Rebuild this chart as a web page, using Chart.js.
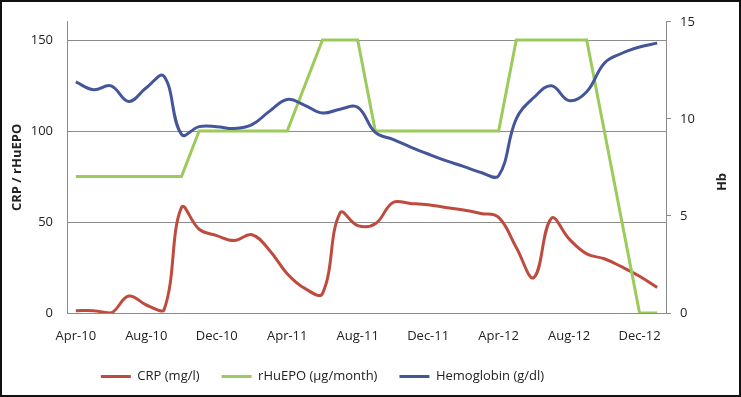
<!DOCTYPE html>
<html>
<head>
<meta charset="utf-8">
<script src="https://cdn.jsdelivr.net/npm/chart.js@4.4.0/dist/chart.umd.min.js"></script>
<style>
  body { margin: 0; background: #fff; }
  canvas { display: block; }
</style>
</head>
<body>
<canvas id="lineChart" width="741" height="397"></canvas>
<script>
// months, Apr-10 .. Jan-13
var months = ['Apr-10', 'May-10', 'Jun-10', 'Jul-10', 'Aug-10', 'Sep-10', 'Oct-10', 'Nov-10', 'Dec-10',
    'Jan-11', 'Feb-11', 'Mar-11', 'Apr-11', 'May-11', 'Jun-11', 'Jul-11', 'Aug-11', 'Sep-11', 'Oct-11',
    'Nov-11', 'Dec-11', 'Jan-12', 'Feb-12', 'Mar-12', 'Apr-12', 'May-12', 'Jun-12', 'Jul-12', 'Aug-12',
    'Sep-12', 'Oct-12', 'Nov-12', 'Dec-12', 'Jan-13'];

var crp = [1.3, 1.3, 0, 9.3, 4.4, 1.5, 58, 46, 42.5, 39.8, 43, 34.4, 21.6, 13.5, 10.7, 55, 48,
    49, 60.7, 60.2, 59.5, 58, 56.6, 54.7, 52.5, 36, 19.5, 52, 40.7, 32.5, 29.8, 25.3, 20.2, 14];

var rhuepo = [75, 75, 75, 75, 75, 75, 75, 100, 100, 100, 100, 100, 100, 125, 150, 150, 150,
    100, 100, 100, 100, 100, 100, 100, 100, 150, 150, 150, 150, 150, 100, 50, 0, 0];

var hemoglobin = [11.9, 11.5, 11.7, 10.9, 11.6, 12.2, 9.2, 9.6, 9.6, 9.5, 9.7, 10.4, 11.0, 10.7,
    10.3, 10.5, 10.6, 9.3, 8.94, 8.55, 8.19, 7.85, 7.55, 7.24, 7.07, 10.0, 11.1, 11.7, 10.94, 11.4,
    12.87, 13.38, 13.7, 13.9];

var leftTicks = [0, 50, 100, 150];
var rightTicks = [0, 5, 10, 15];

var gridGrey = '#8c8c8c';
var textCol = '#222';
var fontFam = '"Open Sans", sans-serif';

// white background, frame, legend shift and the right axis title (reads bottom to top)
var framePlugin = {
    id: 'frame',
    afterLayout: function (chart) {
        // excel centres the legend a bit left of the middle
        chart.legend.left -= 48;
        chart.legend.right -= 48;
    },
    beforeDraw: function (chart) {
        var c = chart.ctx;
        c.save();
        c.fillStyle = '#fff';
        c.fillRect(0, 0, chart.width, chart.height);
        c.restore();
    },
    afterDraw: function (chart) {
        var c = chart.ctx;
        c.save();
        c.strokeStyle = '#111';
        c.lineWidth = 2;
        c.strokeRect(1, 1, chart.width - 2, chart.height - 2);
        c.translate(722, 182);
        c.rotate(-Math.PI / 2);
        c.fillStyle = textCol;
        c.font = 'bold 13px ' + fontFam;
        c.textAlign = 'center';
        c.textBaseline = 'middle';
        c.fillText('Hb', 0, 0);
        c.restore();
    }
};

var ctx = document.getElementById('lineChart').getContext('2d');
var myChart = new Chart(ctx, {
    type: 'line',
    data: {
        labels: months,
        datasets: [{
            label: 'CRP (mg/l)',
            data: crp,
            yAxisID: 'y',
            borderColor: '#bf4b3e',
            backgroundColor: '#bf4b3e',
            borderWidth: 3,
            pointRadius: 0,
            tension: 0.4,
            fill: false,
            order: 3
        }, {
            label: 'rHuEPO (µg/month)',
            data: rhuepo,
            yAxisID: 'y',
            borderColor: '#9bcb5b',
            backgroundColor: '#9bcb5b',
            borderWidth: 3,
            pointRadius: 0,
            tension: 0,
            fill: false,
            order: 2
        }, {
            label: 'Hemoglobin (g/dl)',
            data: hemoglobin,
            yAxisID: 'y1',
            borderColor: '#44559a',
            backgroundColor: '#44559a',
            borderWidth: 3,
            pointRadius: 0,
            tension: 0.4,
            fill: false,
            order: 1
        }]
    },
    options: {
        responsive: false,
        animation: false,
        layout: {
            padding: { top: 20, left: 0, right: 0, bottom: 4 }
        },
        plugins: {
            tooltip: { enabled: false },
            legend: {
                position: 'bottom',
                labels: {
                    usePointStyle: true,
                    pointStyle: 'line',
                    pointStyleWidth: 30,
                    padding: 22,
                    color: textCol,
                    font: { family: fontFam, size: 13 },
                    sort: function (a, b) { return a.datasetIndex - b.datasetIndex; }
                }
            }
        },
        scales: {
            x: {
                offset: true,
                grid: { display: false, drawTicks: false },
                border: { display: true, color: gridGrey },
                ticks: {
                    autoSkip: false,
                    maxRotation: 0,
                    padding: 15,
                    color: textCol,
                    font: { family: fontFam, size: 13 },
                    callback: function (val, i) {
                        return i % 4 === 0 ? months[i] : '';
                    }
                },
                afterFit: function (scale) { scale.height = 35; }
            },
            y: {
                position: 'left',
                min: 0,
                max: 160,
                grid: { color: gridGrey, drawTicks: false },
                border: { display: true, color: gridGrey },
                afterBuildTicks: function (scale) {
                    scale.ticks = leftTicks.map(function (v) { return { value: v }; });
                },
                ticks: {
                    padding: 14,
                    color: textCol,
                    font: { family: fontFam, size: 13 }
                },
                title: {
                    display: true,
                    text: 'CRP / rHuEPO',
                    color: textCol,
                    font: { family: fontFam, size: 13, weight: 'bold' },
                    padding: { top: 9, bottom: 0 }
                },
                afterFit: function (scale) { scale.width = 67; }
            },
            y1: {
                position: 'right',
                min: 0,
                max: 15,
                grid: { drawOnChartArea: false, color: gridGrey, tickLength: 5 },
                border: { display: true, color: gridGrey },
                afterBuildTicks: function (scale) {
                    scale.ticks = rightTicks.map(function (v) { return { value: v }; });
                },
                ticks: {
                    padding: 9,
                    color: textCol,
                    font: { family: fontFam, size: 13 }
                },
                afterFit: function (scale) { scale.width = 75; }
            }
        }
    },
    plugins: [framePlugin]
});
</script>
</body>
</html>
